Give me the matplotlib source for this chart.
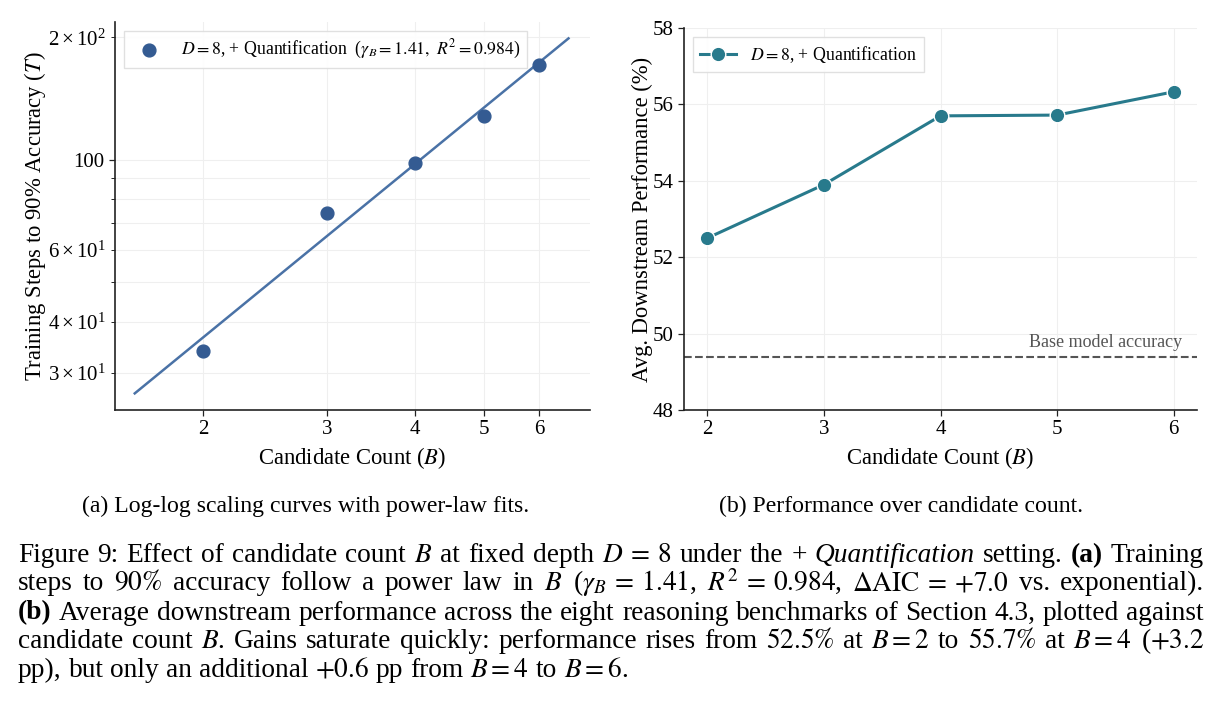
import numpy as np
import matplotlib
matplotlib.use('Agg')
import matplotlib.pyplot as plt
from matplotlib.ticker import ScalarFormatter, NullLocator

# data
B = [2, 3, 4, 5, 6]
steps = [33.9, 74.2, 98.1, 128.3, 171.2]
perf = [52.5, 53.9, 55.7, 55.72, 56.33]
base_acc = 49.38

fit_label = r"$D=8$, + Quantification  ($\gamma_B=1.41,\ R^2=0.984$)"
perf_label = r"$D=8$, + Quantification"

plt.rcParams['font.family'] = ['Liberation Serif', 'DejaVu Serif']
plt.rcParams['mathtext.fontset'] = 'stix'
plt.rcParams['axes.edgecolor'] = '#222222'
plt.rcParams['axes.linewidth'] = 1.2

fig = plt.figure(figsize=(12.24, 7.02), dpi=100)
W, H = 1224, 702

ax1 = fig.add_axes([115/W, 1-410/H, 475/W, 388/H])
ax2 = fig.add_axes([684/W, 1-410/H, 513/W, 382/H])

grid_kw = dict(color='#efefef', lw=0.8)
LAB_FS = 16.3
TICK_FS = 15
LEG_FS = 12.8

# (a) log-log power law
slope, icpt = np.polyfit(np.log(B), np.log(steps), 1)
xs = np.geomspace(0.8*min(B), 1.1*max(B), 100)
ax1.plot(xs, np.exp(icpt)*xs**slope, color='#4a72a6', lw=1.8, zorder=2)
ax1.scatter(B, steps, s=85, color='#345b92', zorder=3, label=fit_label)
ax1.set_xscale('log')
ax1.set_yscale('log')
ax1.set_xlim(1.5, 7.08)
ax1.set_ylim(24.3, 218)
ax1.set_xticks(B, labels=[str(b) for b in B])
ax1.xaxis.set_minor_locator(NullLocator())
ax1.yaxis.set_major_formatter(ScalarFormatter())
ax1.grid(True, which='major', axis='x', **grid_kw)
ax1.grid(True, which='both', axis='y', **grid_kw)
ax1.set_xlabel('Candidate Count ($B$)', fontsize=LAB_FS)
ax1.set_ylabel('Training Steps to 90% Accuracy ($T$)', fontsize=LAB_FS, labelpad=0)
ax1.legend(loc='upper left', fontsize=LEG_FS, fancybox=False, edgecolor='#dddddd', framealpha=0.9)

# (b) downstream performance
ax2.plot(B, perf, color='#287a8c', lw=2.2, marker='o', ms=10.5,
         markeredgecolor='white', markeredgewidth=1, label=perf_label, zorder=3)
ax2.axhline(base_acc, color='#555555', ls='--', lw=1.5, zorder=2)
ax2.text(6.07, base_acc + 0.26, 'Base model accuracy', ha='right', va='baseline',
         fontsize=13, color='#555555')
ax2.set_xlim(1.8, 6.2)
ax2.set_ylim(48, 58)
ax2.set_xticks(B)
ax2.set_yticks([48, 50, 52, 54, 56, 58])
ax2.grid(True, **grid_kw)
ax2.set_xlabel('Candidate Count ($B$)', fontsize=LAB_FS)
ax2.set_ylabel('Avg. Downstream Performance (%)', fontsize=LAB_FS, labelpad=0)
ax2.legend(loc='upper left', fontsize=LEG_FS, fancybox=False, edgecolor='#dddddd', framealpha=0.9)

for ax in (ax1, ax2):
    ax.set_axisbelow(True)
    ax.spines['top'].set_visible(False)
    ax.spines['right'].set_visible(False)
    ax.tick_params(which='major', labelsize=TICK_FS, length=4, width=0.9, color='#222222')
    ax.tick_params(which='minor', length=3, width=0.7, labelsize=TICK_FS, color='#222222')

# sub captions
fig.text(306/W, 1-512/H, '(a) Log-log scaling curves with power-law fits.',
         ha='center', va='baseline', fontsize=17.1)
fig.text(901/W, 1-512/H, '(b) Performance over candidate count.',
         ha='center', va='baseline', fontsize=17.1)

# figure caption, justified line by line
CAP_FS = 19.7
cap_lines = [
    [("Figure", 'n'), ("9:", 'n'), ("Effect", 'n'), ("of", 'n'), ("candidate", 'n'), ("count", 'n'),
     ("$B$", 'n'), ("at", 'n'), ("fixed", 'n'), ("depth", 'n'), (r"$D\:=\:8$", 'n'), ("under", 'n'),
     ("the", 'n'), ("+", 'n'), ("Quantification", 'i'), ("setting.", 'n'), ("(a)", 'b'), ("Training", 'n')],
    [("steps", 'n'), ("to", 'n'), (r"$90\%$", 'n'), ("accuracy", 'n'), ("follow", 'n'), ("a", 'n'),
     ("power", 'n'), ("law", 'n'), ("in", 'n'), ("$B$", 'n'), (r"($\gamma_B\:=\:1.41$,", 'n'),
     (r"$R^2\:=\:0.984$,", 'n'), (r"$\Delta\mathrm{AIC}\:=\:+7.0$", 'n'), ("vs.", 'n'), ("exponential).", 'n')],
    [("(b)", 'b'), ("Average", 'n'), ("downstream", 'n'), ("performance", 'n'), ("across", 'n'), ("the", 'n'),
     ("eight", 'n'), ("reasoning", 'n'), ("benchmarks", 'n'), ("of", 'n'), ("Section", 'n'), ("4.3,", 'n'),
     ("plotted", 'n'), ("against", 'n')],
    [("candidate", 'n'), ("count", 'n'), ("$B$.", 'n'), ("Gains", 'n'), ("saturate", 'n'), ("quickly:", 'n'),
     ("performance", 'n'), ("rises", 'n'), ("from", 'n'), (r"$52.5\%$", 'n'), ("at", 'n'), (r"$B=2$", 'n'),
     ("to", 'n'), (r"$55.7\%$", 'n'), ("at", 'n'), (r"$B=4$", 'n'), (r"($+3.2$", 'n')],
    [("pp),", 'n'), ("but", 'n'), ("only", 'n'), ("an", 'n'), ("additional", 'n'), (r"$+0.6$", 'n'),
     ("pp", 'n'), ("from", 'n'), (r"$B=4$", 'n'), ("to", 'n'), (r"$B=6$.", 'n')],
]
baselines = [562, 590.5, 619.5, 648, 677]
left_px, right_px = 18, 1204

renderer = fig.canvas.get_renderer()
for i, (toks, yb) in enumerate(zip(cap_lines, baselines)):
    texts = []
    for s, st in toks:
        kw = {}
        if st == 'i':
            kw['style'] = 'italic'
        if st == 'b':
            kw['weight'] = 'bold'
        texts.append(fig.text(0, 1 - yb/H, s, fontsize=CAP_FS, ha='left', va='baseline', **kw))
    widths = [t.get_window_extent(renderer).width for t in texts]
    if i < len(cap_lines) - 1:
        gap = (right_px - left_px - sum(widths)) / (len(texts) - 1)
    else:
        gap = CAP_FS * 0.25 * 100 / 72
    x = left_px
    for t, w in zip(texts, widths):
        t.set_x(x / W)
        x += w + gap

fig.savefig('out.png', dpi=100)
